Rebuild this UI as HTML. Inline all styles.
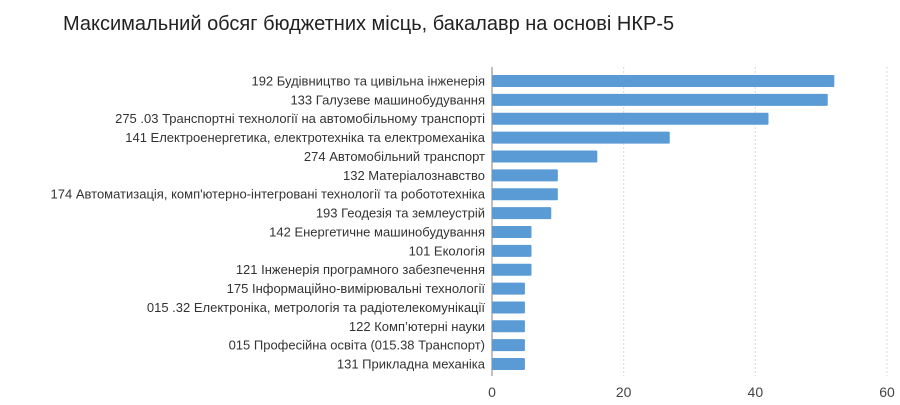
<!DOCTYPE html>
<html><head><meta charset="utf-8"><style>
body{margin:0;background:#fff;width:900px;height:400px;overflow:hidden;font-family:"Liberation Sans","DejaVu Sans",sans-serif;}
</style></head><body>
<svg id="chart" width="900" height="400" xmlns="http://www.w3.org/2000/svg">
<text x="63" y="30" font-size="20" fill="#222">Максимальний обсяг бюджетних місць, бакалавр на основі  НКР-5</text>
<g id="grid"></g><g id="bars"></g><g id="labels"></g><g id="ticks"></g>
</svg>
<script>
const categories=["192 Будівництво та цивільна інженерія","133 Галузеве машинобудування","275 .03 Транспортні технології на автомобільному транспорті","141 Електроенергетика, електротехніка та електромеханіка","274 Автомобільний транспорт","132 Матеріалознавство","174 Автоматизація, комп'ютерно-інтегровані технології  та робототехніка","193 Геодезія та землеустрій","142 Енергетичне машинобудування","101 Екологія","121 Інженерія програмного забезпечення","175 Інформаційно-вимірювальні технології","015 .32 Електроніка, метрологія та радіотелекомунікації","122 Комп’ютерні науки","015 Професійна освіта (015.38 Транспорт)","131 Прикладна механіка"];
const values=[52,51,42,27,16,10,10,9,6,6,6,5,5,5,5,5];
const tickValues=[0,20,40,60];
const NS="http://www.w3.org/2000/svg";
const x0=492,x1=887,xMax=60,yTop=67,yBot=376,first=75,pitch=18.87,bh=12;
const xs=v=>x0+(x1-x0)*v/xMax;
const yb=i=>first+i*pitch;
function mk(t,a,p){const e=document.createElementNS(NS,t);for(const k in a)e.setAttribute(k,a[k]);document.getElementById(p).appendChild(e);return e;}
tickValues.forEach(v=>{
 if(v>0){const g=mk('line',{x1:xs(v),x2:xs(v),y1:yTop,y2:yBot,stroke:'#d9d9d9','stroke-dasharray':'2,2'},'grid');
 
 }
 const t=mk('text',{x:xs(v),y:397,'text-anchor':'middle','font-size':14,fill:'#444'},'ticks');
 t.textContent=v;
 
 
});
const ax=mk('line',{x1:x0,x2:x0,y1:yTop,y2:yBot,stroke:'#aaa','stroke-width':1.5},'grid');


categories.forEach((c,i)=>{
 const r=mk('rect',{x:x0,y:yb(i),width:xs(values[i])-x0,height:bh,fill:'#5b9bd5',rx:1},'bars');
 
 
 const t=mk('text',{x:485,y:yb(i)+bh/2+4.5,'text-anchor':'end','font-size':13,fill:'#333'},'labels');
 t.textContent=c;
 
 
});
</script>
</body></html>
